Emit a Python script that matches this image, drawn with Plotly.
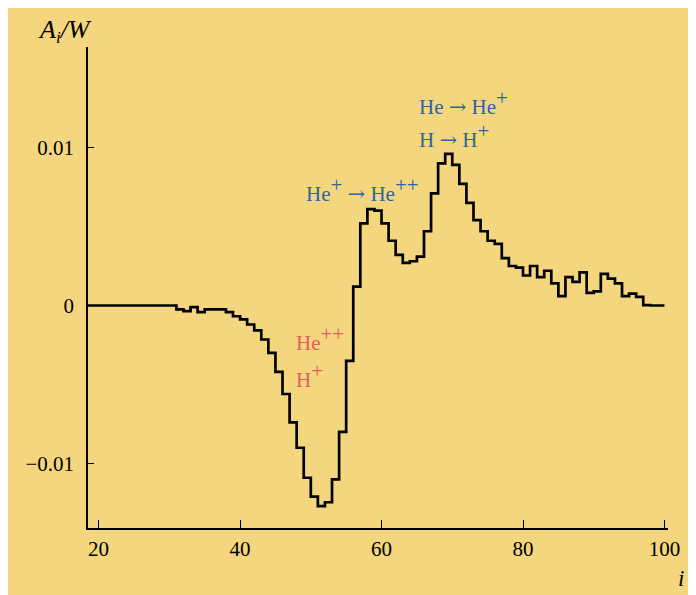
import plotly.graph_objects as go

# Bin index i and the step values A_i/W (bin [i, i+1))
i_vals = list(range(18, 101))
a_vals = [
    0, 0, 0, 0, 0, 0, 0, 0, 0, 0, 0, 0, 0,          # 18-30
    -0.00025, -0.00036, -0.0001, -0.00042, -0.00025, -0.00025, -0.00025,  # 31-37
    -0.00042, -0.00068, -0.00088, -0.0012, -0.00157, -0.00215,            # 38-43
    -0.0030, -0.0042, -0.0056, -0.0074, -0.0090, -0.0109,                 # 44-49
    -0.0121, -0.0127, -0.01245, -0.0110, -0.0080, -0.0035,                # 50-55
    0.0012, 0.0052, 0.0061, 0.0060, 0.0052, 0.0041, 0.0032, 0.0027,       # 56-63
    0.0028, 0.0031, 0.0047, 0.0071, 0.0090, 0.0096, 0.0089, 0.0077,       # 64-71
    0.0065, 0.0054, 0.0047, 0.0041, 0.0039, 0.0030, 0.0025, 0.0024,       # 72-79
    0.0019, 0.0025, 0.0018, 0.0022, 0.0014, 0.0006, 0.0018, 0.0015,       # 80-87
    0.0021, 0.0008, 0.0009, 0.0020, 0.0017, 0.0014, 0.0006, 0.00075,      # 88-95
    0.00055, 0.00003, 0.0, 0.0, 0.0,                                      # 96-100
]

x_ticks = [20, 40, 60, 80, 100]
x_ticktext = ["20", "40", "60", "80", "100"]
y_ticks = [-0.01, 0, 0.01]
y_ticktext = ["\u22120.01", "0", "0.01"]

BG = "#F3D67D"
SERIF = "Liberation Serif, Times New Roman, serif"
RED = "#E65F5A"
BLUE = "#2F62A8"

# the page body has an 8px margin; figure sits at (8, 8)
OFF = 8
W, H = 696 - OFF, 595 - OFF
L, T = 88 - OFF, 47 - OFF
R, B = 696 - 668, 595 - 528
pw, ph = 668 - 88, 528 - 47

def px(xp):  # page pixel -> paper x
    return (xp - 88) / pw

def py(yp):  # page pixel -> paper y
    return (528 - yp) / ph

def dx(xp):
    return 20 + (xp - 98.5) / 7.08

def dy(yp):
    return (305.5 - yp) / 15800.0

fig = go.Figure()
fig.add_trace(go.Scatter(
    x=i_vals, y=a_vals, mode="lines",
    line=dict(shape="hv", color="black", width=2.7),
    hoverinfo="skip", showlegend=False,
))

def sup(s, size):
    return "<sup><span style='font-size:%dpx'>%s</span></sup>" % (size, s)

ann = []
ann.append(dict(text="<i>A<sub><span style='font-size:17px'>i</span></sub>/W</i>",
                xref="paper", yref="paper",
                x=px(36), y=py(31), xanchor="left", yanchor="middle",
                showarrow=False, font=dict(family=SERIF, size=26, color="black")))
ann.append(dict(text="<i>i</i>", xref="paper", yref="paper",
                x=px(681), y=py(578), xanchor="center", yanchor="middle",
                showarrow=False, font=dict(family=SERIF, size=23, color="black")))

ARROW = "<span style='font-family:DejaVu Serif'>\u2192</span>"
SUP = 21
labels = [
    ("He" + sup("++", SUP), 294, 338, RED),
    ("H" + sup("+", SUP), 294, 375, RED),
    ("He" + sup("+", SUP) + " " + ARROW + " He" + sup("++", SUP), 304, 189, BLUE),
    ("He " + ARROW + " He" + sup("+", SUP), 417, 103, BLUE),
    ("H " + ARROW + " H" + sup("+", SUP), 417, 135, BLUE),
]
for t, xp, yp, c in labels:
    ann.append(dict(text=t, x=dx(xp), y=dy(yp), xref="x", yref="y",
                    xanchor="left", yanchor="middle", showarrow=False,
                    font=dict(family=SERIF, size=21, color=c)))

fig.update_layout(
    width=W, height=H,
    margin=dict(l=L, r=R, t=T, b=B, pad=0),
    paper_bgcolor=BG,
    plot_bgcolor=BG,
    annotations=ann,
    xaxis=dict(range=[18.5, 100.5], showline=True, linecolor="black", linewidth=1.5,
               ticks="inside", ticklen=8, tickwidth=1.3, tickcolor="black",
               tickvals=x_ticks, ticktext=x_ticktext, showgrid=False, zeroline=False,
               tickfont=dict(family=SERIF, size=21, color="black"),
               ticklabelstandoff=1),
    yaxis=dict(range=[-0.01408, 0.01636], showline=True, linecolor="black", linewidth=1.5,
               ticks="inside", ticklen=6, tickwidth=1.3, tickcolor="black",
               tickvals=y_ticks, ticktext=y_ticktext, showgrid=False, zeroline=False,
               tickfont=dict(family=SERIF, size=21, color="black"),
               ticklabelstandoff=8),
)

fig.write_html("out.html")
